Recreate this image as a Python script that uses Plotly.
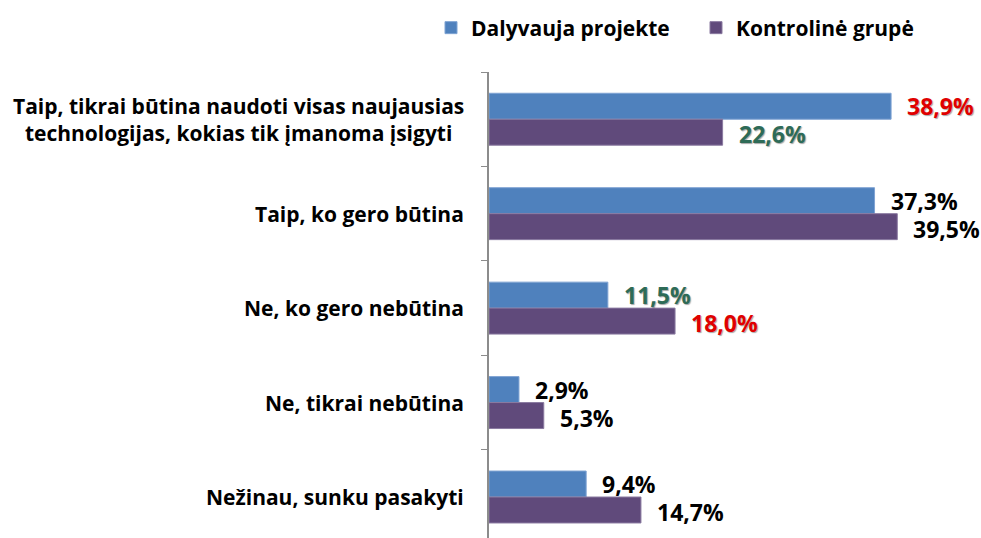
import plotly.graph_objects as go

categories = [
    "Taip, tikrai būtina naudoti visas naujausias<br>technologijas, kokias tik įmanoma įsigyti",
    "Taip, ko gero būtina",
    "Ne, ko gero nebūtina",
    "Ne, tikrai nebūtina",
    "Nežinau, sunku pasakyti",
]
series_names = ["Dalyvauja projekte", "Kontrolinė grupė"]
dalyvauja = [38.9, 37.3, 11.5, 2.9, 9.4]
kontroline = [22.6, 39.5, 18.0, 5.3, 14.7]
label_colors_dal = ["#E00000", "black", "#2E6B57", "black", "black"]
label_colors_kon = ["#2E6B57", "black", "#E00000", "black", "black"]

FONT = "Open Sans"
fig = go.Figure()
fig.add_trace(go.Bar(y=categories, x=dalyvauja, orientation="h", name=series_names[0], legend="legend",
                     marker=dict(color="#4F81BD", line=dict(color="#7FA3D3", width=1))))
fig.add_trace(go.Bar(y=categories, x=kontroline, orientation="h", name=series_names[1], legend="legend2",
                     marker=dict(color="#604A7B", line=dict(color="#8A7AA0", width=1))))

ann = []
for i, c in enumerate(categories):
    ann.append(dict(x=0, xref="paper", y=c, yref="y", xanchor="right", xshift=-23,
                    text=c, showarrow=False, align="center",
                    font=dict(family=FONT, size=21, color="black", weight="bold")))
    for vals, cols, ys in ((dalyvauja, label_colors_dal, 13), (kontroline, label_colors_kon, -15)):
        col = cols[i]
        ann.append(dict(x=vals[i], xref="x", y=c, yref="y", xanchor="left", xshift=14, yshift=ys,
                        text=f"{vals[i]:.1f}%".replace(".", ","), showarrow=False,
                        font=dict(family=FONT, size=23, color=col, weight="bold",
                                  shadow="1px 1px 1px rgba(0,0,0,0.35)" if col != "black" else "none")))

legend_font = dict(family=FONT, size=21, color="black", weight="bold")
fig.update_layout(
    width=981, height=538,
    margin=dict(l=489, r=0, t=72, b=0, autoexpand=False),
    paper_bgcolor="white", plot_bgcolor="white",
    barmode="group", bargap=0.45, bargroupgap=0,
    showlegend=True,
    legend=dict(orientation="h", xref="container", yref="container", x=(445 - 14) / 981, y=1 - 28 / 538,
                xanchor="left", yanchor="middle", font=legend_font, itemwidth=30),
    legend2=dict(orientation="h", xref="container", yref="container", x=(710 - 14) / 981, y=1 - 28 / 538,
                 xanchor="left", yanchor="middle", font=legend_font, itemwidth=30),
    xaxis=dict(visible=False, range=[0, 47.6]),
    yaxis=dict(type="category", range=[4.434, -0.5], showticklabels=False,
               showline=True, linecolor="#8C8C8C", linewidth=1.5,
               ticks="outside", tickson="boundaries", ticklen=6, tickcolor="#8C8C8C",
               showgrid=False, zeroline=False),
    annotations=ann,
)
fig.write_html("out.html", config={"displayModeBar": False},
               post_script="document.body.style.margin='0';")
